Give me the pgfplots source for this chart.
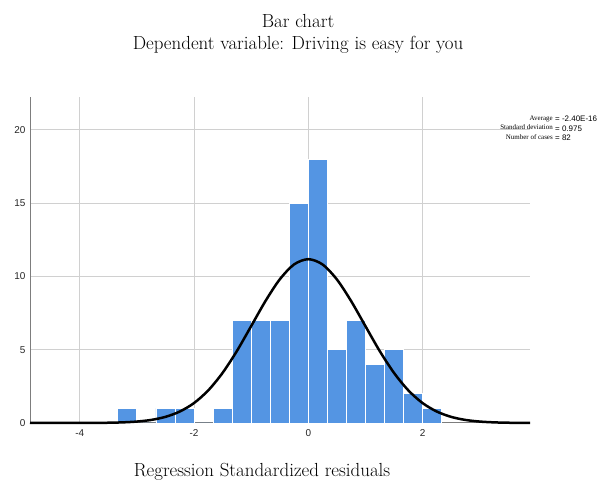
\documentclass[border=0pt]{standalone}
\usepackage{pgfplots}
\pgfplotsset{compat=1.18}
\usepackage{fontspec}
\newfontfamily\sansf{Liberation Sans}
\newfontfamily\seriff{Liberation Serif}
\definecolor{barblue}{RGB}{84,149,227}
\definecolor{gridgray}{RGB}{208,208,208}
\definecolor{axisgray}{RGB}{125,125,125}
\begin{document}
\begin{tikzpicture}
\useasboundingbox (0,0) rectangle (616bp,483bp);
\begin{axis}[
  at={(30bp,60bp)}, anchor=south west,
  scale only axis, width=500bp, height=326bp,
  xmin=-4.87, xmax=3.88, ymin=0, ymax=22.25,
  axis x line=bottom, axis y line=left,
  axis line style={-, draw=axisgray, line width=1bp},
  xtick={-4,-2,0,2}, ytick={0,5,10,15,20},
  major tick length=0pt,
  grid=major, grid style={draw=gridgray, line width=1bp},
  tick label style={font=\sansf\fontsize{10}{12}\selectfont, text=black!85},
  /pgf/number format/assume math mode=true,
  xticklabel style={yshift=-3bp},
  yticklabel style={xshift=-1bp},
  clip=false,
]
\addplot[ybar interval, fill=barblue, draw=white, line width=0.8bp] coordinates {
(-3.3333,1) (-3.0,0) (-2.6667,1) (-2.3333,1) (-2.0,0) (-1.6667,1)
(-1.3333,7) (-1.0,7) (-0.6667,7) (-0.3333,15) (0,18) (0.3333,5)
(0.6667,7) (1.0,4) (1.3333,5) (1.6667,2) (2.0,1) (2.3333,0)
};
\addplot[black, line width=2.5bp, smooth, tension=0.5] coordinates {
(-4.87,0.000) (-4.5,0.000) (-4.25,0.001) (-4.0,0.002) (-3.75,0.007) (-3.5,0.018) (-3.25,0.043)
(-3.0,0.098) (-2.75,0.209) (-2.5,0.418) (-2.25,0.780) (-2.0,1.36)
(-1.75,2.23) (-1.5,3.42) (-1.25,4.91) (-1.0,6.61) (-0.75,8.32)
(-0.5,9.80) (-0.25,10.82) (0,11.18) (0.25,10.82) (0.5,9.80)
(0.75,8.32) (1.0,6.61) (1.25,4.91) (1.5,3.42) (1.75,2.23)
(2.0,1.36) (2.25,0.780) (2.5,0.418) (2.75,0.209) (3.0,0.098)
(3.25,0.043) (3.5,0.018) (3.75,0.007) (3.88,0.004)
};
\end{axis}
\node[anchor=base, font=\fontsize{19}{22}\selectfont] at (298bp,455bp) {Bar chart};
\node[anchor=base, font=\fontsize{19}{22}\selectfont] at (298bp,433bp) {Dependent variable: Driving is easy for you};
\node[anchor=base, font=\fontsize{19}{22}\selectfont] at (262bp,6.5bp) {Regression Standardized residuals};
\node[anchor=base east, inner sep=0pt, font=\seriff\fontsize{7}{8}\selectfont] at (553bp,362.5bp) {Average};
\node[anchor=base east, inner sep=0pt, font=\seriff\fontsize{7}{8}\selectfont] at (553bp,353bp) {Standard deviation};
\node[anchor=base east, inner sep=0pt, font=\seriff\fontsize{7}{8}\selectfont] at (553bp,343.5bp) {Number of cases};
\node[anchor=base west, inner sep=0pt, font=\sansf\fontsize{8}{9}\selectfont] at (555bp,361bp) {= -2.40E-16};
\node[anchor=base west, inner sep=0pt, font=\sansf\fontsize{8}{9}\selectfont] at (555bp,351.5bp) {= 0.975};
\node[anchor=base west, inner sep=0pt, font=\sansf\fontsize{8}{9}\selectfont] at (555bp,342bp) {= 82};
\end{tikzpicture}
\end{document}
